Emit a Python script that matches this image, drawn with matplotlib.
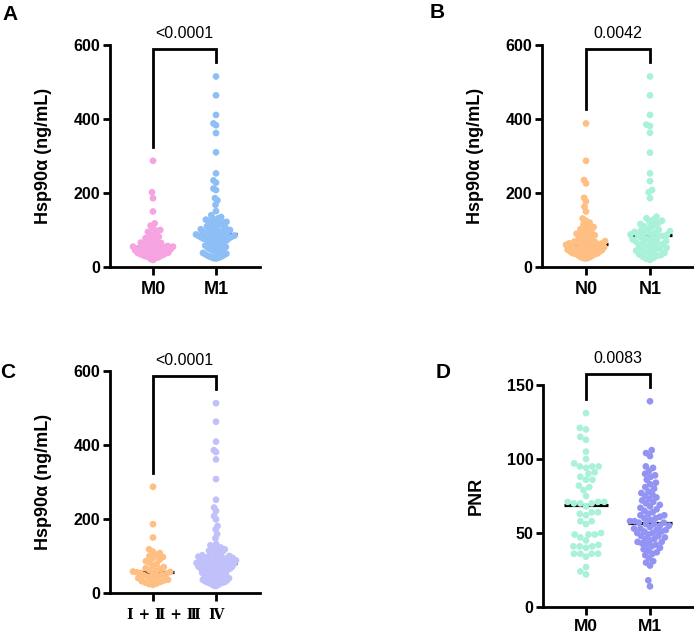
import numpy as np
import matplotlib
matplotlib.use("Agg")
import matplotlib.pyplot as plt

plt.rcParams['font.family'] = ['Liberation Sans', 'DejaVu Sans']

# ---------------- data ----------------
A_labels = ["M0", "M1"]
A_M0 = [287, 202, 186, 150, 118, 112, 105, 100, 98, 95, 92, 88, 85, 82, 78, 75, 72, 70,
        68, 66, 65, 63, 62, 60, 58, 57, 56, 55, 55, 54, 53, 52, 50, 49, 48, 47, 46, 45,
        44, 43, 42, 40, 39, 38, 37, 36, 35, 33, 32, 30, 29, 28, 26, 24, 22, 19]
A_M1 = [515, 464, 411, 388, 383, 362, 310, 253, 234, 228, 212, 208, 186, 180, 168, 151,
        140, 135, 132, 130, 128, 126, 124, 122, 120, 118, 116, 114, 112, 110, 108, 106,
        104, 102, 100, 99, 98, 96, 95, 94, 93, 92, 90,
        88, 87, 86, 85, 84, 83, 82, 81, 80, 79, 78, 77, 76, 75, 74, 72, 70, 68, 66, 64,
        62, 60, 58, 56, 54, 52, 50, 48, 46, 44, 42, 40, 38, 36, 34, 32, 30, 28, 27, 25, 24, 23]
A_p = "<0.0001"

B_labels = ["N0", "N1"]
B_N0 = [388, 287, 235, 226, 187, 177, 163, 150, 131, 125, 120, 115, 112, 108, 105, 102,
        100, 97, 95, 92, 90, 88, 86, 84, 82, 80, 78, 76, 74, 72, 70, 69, 68, 67, 66, 65,
        64, 63, 62, 61, 60, 59, 58, 57, 56, 55, 54, 53, 52, 51, 50, 49, 48, 47, 46, 45,
        44, 43, 42, 41, 40, 39, 38, 37, 36, 35, 34, 32, 30, 28, 26, 25, 24, 23]
B_N1 = [515, 464, 411, 385, 381, 363, 309, 253, 232, 208, 202, 186,
        136, 132, 128, 125, 122, 119, 116, 113, 110, 107, 104, 101, 99, 97, 95, 93, 91,
        90, 88, 87, 86, 84, 82, 80, 78, 76, 74, 72, 70, 68, 66, 64, 62, 60, 58, 56, 54,
        52, 50, 48, 46, 44, 42, 40, 38, 36, 34, 32, 30, 28, 25, 22, 19]
B_p = "0.0042"

C_labels = ["Ⅰ + Ⅱ + Ⅲ", "Ⅳ"]
C_I_III = [287, 186, 150, 118, 112, 108, 104, 100, 97, 94, 90, 86, 82, 78, 74, 70, 67,
           64, 62, 60, 58, 57, 56, 55, 54, 52, 50, 48, 46, 44, 42, 40, 38, 36, 34, 32,
           30, 28, 26, 24, 22]
C_IV = [513, 463, 409, 386, 381, 361, 308, 252, 231, 222, 208, 199, 181, 172, 159, 148,
        132, 129, 126, 123, 120, 118, 116, 114, 112, 110, 108, 106, 104, 102, 100, 99,
        98, 97, 96, 95, 94, 93, 92, 91, 90, 89, 88, 87, 86, 85, 84, 83, 82.5, 82,
        81, 80, 79, 78, 77, 76, 75, 74, 73, 72, 71, 70, 69, 68, 67, 66, 65, 64, 63, 62,
        61, 60, 58, 56, 55, 54, 52, 50, 49, 48, 46, 45, 44, 42, 40, 39, 38, 36, 35, 34,
        32, 30, 29, 28, 27, 26, 24, 22, 20, 19]
C_p = "<0.0001"

D_labels = ["M0", "M1"]
D_M0 = [131, 121, 120, 115, 113, 105, 100, 97, 95, 95, 95, 94, 91, 90, 88, 86, 86, 82,
        81, 79, 75, 71, 71, 71, 70, 70, 70, 68, 64, 64, 63, 62, 58, 58, 56, 50, 49, 49,
        49, 47, 45, 42, 41, 41, 41, 40, 36, 36, 36, 36, 34, 27, 24, 22]
D_M1 = [139, 106, 104, 102, 95, 94, 92, 90, 89, 88, 86, 84, 83, 81, 80, 78, 77, 76, 75,
        74, 73, 72, 71, 70, 69, 68, 67, 66, 65, 64, 63, 62, 62, 61, 60, 60, 59, 58, 58,
        57, 57, 56, 56, 55, 55, 54, 53, 53, 52, 52, 51, 51, 50, 50, 49, 48, 48, 47, 46,
        46, 45, 44, 44, 43, 42, 42, 41, 40, 39, 38, 37, 36, 35, 33, 31, 30, 28, 18, 14]
D_p = "0.0083"

# ---------------- style ----------------
FIG_W, FIG_H = 694, 636
DPI = 100
MARKER_D = 6.7      # px
SPACING = 6.4       # px for swarm
MAX_HALF = 20.0     # px, max half-width of a swarm

fig = plt.figure(figsize=(FIG_W / DPI, FIG_H / DPI), dpi=DPI)


def add_axes_px(left, top, right, bottom):
    return fig.add_axes([left / FIG_W, 1 - bottom / FIG_H,
                         (right - left) / FIG_W, (bottom - top) / FIG_H])


def swarm_offsets(values, ypx, d):
    values = np.asarray(values, float)
    order = np.argsort(values)
    placed = []
    xs = np.zeros(len(values))
    for i in order:
        y = values[i] * ypx
        intervals = []
        for (px, py) in placed:
            dy = abs(py - y)
            if dy < d:
                dx = np.sqrt(d * d - dy * dy)
                intervals.append((px - dx, px + dx))
        cands = [0.0] + [a for a, b in intervals] + [b for a, b in intervals]
        cands.sort(key=lambda c: (abs(c), c))
        x = 0.0
        for c in cands:
            if all(not (a + 1e-9 < c < b - 1e-9) for a, b in intervals):
                x = c
                break
        placed.append((x, y))
        xs[i] = x
    m = np.max(np.abs(xs))
    if m > MAX_HALF:
        xs = xs * MAX_HALF / m
    return xs


def panel(box, tick_px, groups, colors, labels, ymax, yticks, ylabel, ptxt,
          letter, letter_xy, roman=False, xpad=4, xfs=13):
    left, top, right, bottom = box
    ax = add_axes_px(left, top, right, bottom)
    t0, t1 = tick_px
    xpx = t1 - t0
    ax.set_xlim((left - t0) / xpx, (right - t0) / xpx)
    ax.set_ylim(0, ymax)
    ypx = (bottom - top) / ymax
    for k, (vals, col) in enumerate(zip(groups, colors)):
        offs = swarm_offsets(vals, ypx, SPACING) / xpx
        ax.scatter(k + offs, vals, s=(MARKER_D * 72 / DPI) ** 2, color=col,
                   edgecolors='none', zorder=3, clip_on=False)
        med = np.median(vals)
        ax.plot([k - 0.34, k + 0.34], [med, med], color='black', lw=2.3,
                zorder=2, solid_capstyle='butt')
    # bracket
    gap_leg = 14 / ypx
    gap_top = 13 / ypx
    legs = [max(g) + gap_leg for g in groups]
    by = max(legs) + gap_top
    ax.plot([0, 0, 1, 1], [legs[0], by, by, legs[1]], color='black', lw=2,
            clip_on=False, zorder=4, solid_joinstyle='miter')
    ax.annotate(ptxt, xy=(0.5, by), xytext=(0, 11.5), textcoords='offset points',
                ha='center', va='center', fontsize=11.5, annotation_clip=False)
    # axes style
    for s in ('top', 'right'):
        ax.spines[s].set_visible(False)
    for s in ('left', 'bottom'):
        ax.spines[s].set_linewidth(2)
    ax.set_yticks(yticks)
    ax.set_xticks([0, 1])
    if roman:
        ax.set_xticklabels(["", ""])
        rk = dict(family=['DejaVu Serif', 'DejaVu Sans'], fontsize=10,
                  fontweight='bold', va='top', annotation_clip=False)
        ax.annotate(labels[0], xy=(0, 0), xytext=(8, -11), textcoords='offset points',
                    ha='center', **rk)
        ax.annotate(labels[1], xy=(1, 0), xytext=(0, -11), textcoords='offset points',
                    ha='center', **rk)
    else:
        ax.set_xticklabels(labels, fontsize=xfs, fontweight='bold')
    for lab in ax.get_yticklabels():
        lab.set_fontweight('bold')
        lab.set_fontsize(11.5)
    ax.tick_params(axis='y', length=4.8, width=2, pad=2)
    ax.tick_params(axis='x', length=6, width=2, pad=xpad)
    ax.set_ylabel(ylabel, fontsize=13, fontweight='bold')
    ax.yaxis.set_label_coords(-0.385, 0.5)
    fig.text(letter_xy[0] / FIG_W, 1 - letter_xy[1] / FIG_H, letter, fontsize=15,
             fontweight='bold', ha='center', va='center')
    return ax


pink, blue = '#F5A3E1', '#8EBEF6'
orange, mint = '#FFBE82', '#A9F1D9'
lavender, purple = '#C0C0FA', '#9393F3'

panel((110, 45, 260, 267), (153, 216), [A_M0, A_M1], [pink, blue], A_labels, 600,
      [0, 200, 400, 600], "Hsp90α (ng/mL)", A_p, "A", (10, 15))
panel((542, 45, 693, 267), (586, 650), [B_N0, B_N1], [orange, mint], B_labels, 600,
      [0, 200, 400, 600], "Hsp90α (ng/mL)", B_p, "B", (437, 12))
panel((110, 371, 260, 593), (153, 216), [C_I_III, C_IV], [orange, lavender], C_labels, 600,
      [0, 200, 400, 600], "Hsp90α (ng/mL)", C_p, "C", (8, 373), roman=True)
panel((543, 385, 693, 607), (586, 650), [D_M0, D_M1], [mint, purple], D_labels, 150,
      [0, 50, 100, 150], "PNR", D_p, "D", (443, 373), xpad=2.5, xfs=12.5)

fig.savefig("out.png", dpi=DPI)
